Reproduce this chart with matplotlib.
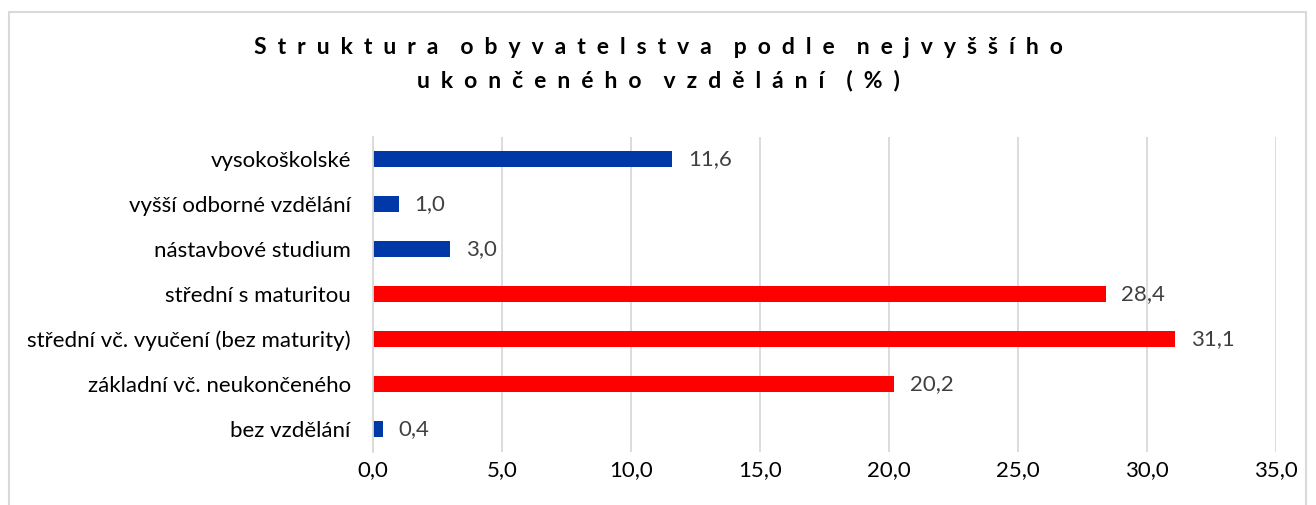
import matplotlib.pyplot as plt
from matplotlib.patches import Rectangle

# data
categories = ['bez vzdělání', 'základní vč. neukončeného', 'střední vč. vyučení (bez maturity)',
              'střední s maturitou', 'nástavbové studium', 'vyšší odborné vzdělání', 'vysokoškolské']
values = [0.4, 20.2, 31.1, 28.4, 3.0, 1.0, 11.6]
bar_colors = ['#0038A8', '#FF0000', '#FF0000', '#FF0000', '#0038A8', '#0038A8', '#0038A8']
x_ticks = [0, 5, 10, 15, 20, 25, 30, 35]
title_lines = ['Struktura obyvatelstva podle nejvyššího', 'ukončeného vzdělání (%)']

plt.rcParams['font.family'] = ['Lato', 'DejaVu Sans']

fig = plt.figure(figsize=(13.16, 5.05), dpi=100)
ax = fig.add_axes([373 / 1316, 1 - 451.5 / 505, (1276 - 373) / 1316, 315 / 505])

ax.barh(range(len(categories)), values, height=0.36, color=bar_colors)
for i, v in enumerate(values):
    ax.text(v + 0.6, i, f'{v:.1f}'.replace('.', ','), va='center', ha='left',
            fontsize=16, color='#404040')

ax.set_xlim(0, 35)
ax.set_ylim(-0.5, len(categories) - 0.5)
ax.set_xticks(x_ticks)
ax.set_xticklabels([f'{t:.1f}'.replace('.', ',') for t in x_ticks], fontsize=16)
ax.set_yticks(range(len(categories)))
ax.set_yticklabels(categories, fontsize=16)
ax.tick_params(axis='y', length=0, pad=16)
ax.tick_params(axis='x', length=0, pad=6)
ax.xaxis.grid(True, color='#d9d9d9', linewidth=1.3)
ax.set_axisbelow(True)
for s in ['top', 'right', 'bottom']:
    ax.spines[s].set_visible(False)
ax.spines['left'].set_color('#d9d9d9')
ax.spines['left'].set_linewidth(1.3)

# spaced-out title like the Excel original
for k, line in enumerate(title_lines):
    spaced = '    '.join('  '.join(word) for word in line.split(' '))
    fig.text(0.5, 1 - (47.5 + k * 33) / 505, spaced, ha='center', va='center',
             fontsize=16.5, fontweight='bold', color='#000000')

# chart area border
fig.patches.append(Rectangle((9 / 1316, -0.05), 1297 / 1316, 1 - 12 / 505 + 0.05,
                             transform=fig.transFigure, fill=False,
                             edgecolor='#d9d9d9', linewidth=1.5))

fig.savefig('out.png', dpi=100)
